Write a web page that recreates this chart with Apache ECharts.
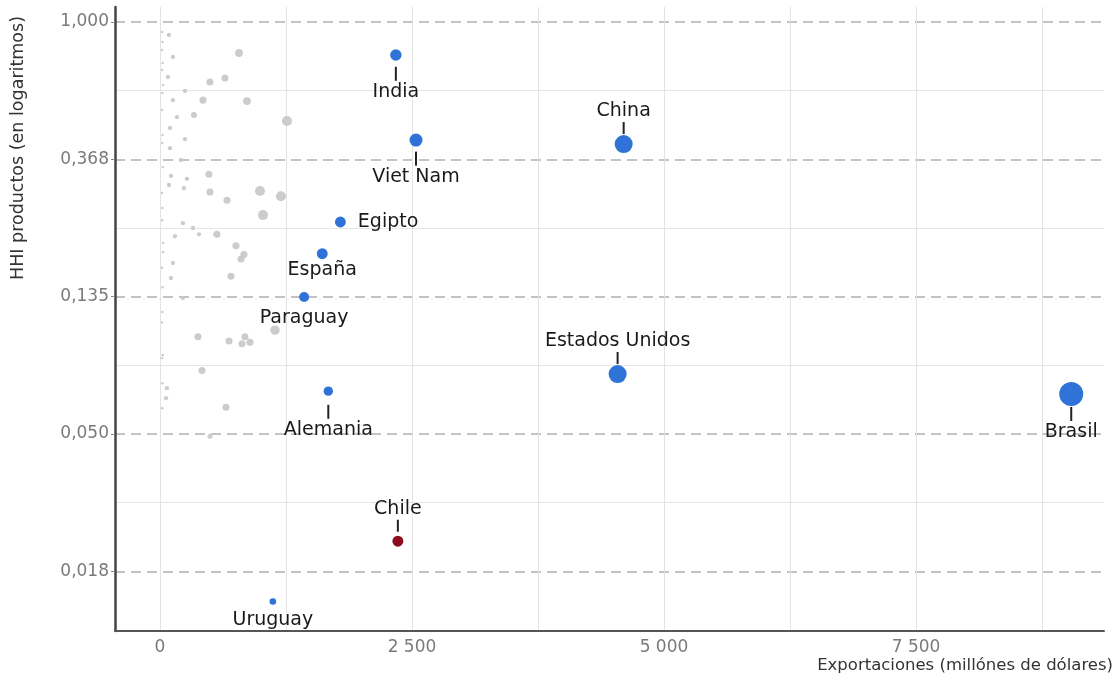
<!DOCTYPE html>
<html>
<head>
<meta charset="utf-8">
<script src="https://cdn.jsdelivr.net/npm/echarts@6/dist/echarts.min.js"></script>
<style>
html,body{margin:0;padding:0;background:#fff;}
#chart{width:1117px;height:689px;}
</style>
</head>
<body>
<div id="chart"></div>
<script>
// ---- Data ----
const paises = ['India','Viet Nam','China','Egipto','España','Paraguay','Estados Unidos','Brasil','Alemania','Chile','Uruguay'];
const exportaciones = [2340, 2540, 4600, 1790, 1610, 1430, 4540, 9040, 1670, 2360, 1120];
const hhi = [0.786, 0.423, 0.411, 0.233, 0.185, 0.135, 0.077, 0.0666, 0.068, 0.0228, 0.0147];
const pesos = [21, 27, 52, 19, 19, 16, 52, 92, 14, 19, 7];

const otrosExport = [89,129,784,79,496,645,248,129,427,863,169,337,1260,99,248,99,208,486,109,268,89,238,496,665,992,1200,1022,228,327,387,149,565,30,754,833,804,129,704,109,228,1141,377,685,843,814,893,417,69,60,655,496,
  22,25,20,28,22,30,24,20,26,22,28,20,24,22,30,20,26,24,22,28,20,25,22];
const otrosHHI = [0.910,0.775,0.798,0.670,0.646,0.665,0.605,0.566,0.566,0.562,0.500,0.508,0.486,0.462,0.426,0.399,0.366,0.330,0.326,0.319,0.305,0.298,0.290,0.273,0.292,0.281,0.245,0.231,0.223,0.213,0.210,0.213,0.200,0.196,0.184,0.178,0.173,0.157,0.155,0.134,0.106,0.101,0.098,0.101,0.096,0.097,0.079,0.0695,0.0646,0.0605,0.0490,
  0.930,0.864,0.815,0.742,0.705,0.632,0.596,0.527,0.439,0.414,0.348,0.288,0.258,0.236,0.187,0.167,0.145,0.121,0.112,0.0884,0.0865,0.072,0.060];
const otrosPesos = [3,3,10,3,8,8,3,3,8,10,3,6,16,3,3,3,3,8,3,3,3,3,8,8,16,16,16,3,3,3,3,8,1,8,8,8,3,8,3,3,14,8,8,8,8,8,8,3,3,8,4,
  1,1,1,1,1,1,1,1,1,1,1,1,1,1,1,1,1,1,1,1,1,1,1];

const xTickValues = [0, 2500, 5000, 7500];
const xTickLabels = ['0', '2 500', '5 000', '7 500'];
const xGridValues = [0, 1250, 2500, 3750, 5000, 6250, 7500, 8750];
const yTickValues = [0.0183156, 0.0497871, 0.1353353, 0.3678794, 1];
const yTickLabels = ['0,018', '0,050', '0,135', '0,368', '1,000'];
const yMinorValues = [0.0301974, 0.0820850, 0.2231302, 0.6065307];

// ---- Styles ----
const xMin = -446, xMax = 9365;
const yMin = Math.exp(-4.435), yMax = Math.exp(0.109);
const FONT = 'DejaVu Sans';
const BLUE = '#2f73d8', RED = '#8c0b1c', GRAY = '#c6c6c6';
const sizeOf = p => 2.5 * Math.sqrt(p);

const labelCfg = {
  'India': {pos: 'bottom', line: true, dist: 6},
  'Viet Nam': {pos: 'bottom', line: true, dist: 5},
  'China': {pos: 'top', line: true, dist: 1},
  'Egipto': {pos: 'right', line: false, dist: 12},
  'España': {pos: 'bottom', line: false, dist: 0},
  'Paraguay': {pos: 'bottom', line: false, dist: 5},
  'Estados Unidos': {pos: 'top', line: true, dist: 1},
  'Brasil': {pos: 'bottom', line: true, dist: 1},
  'Alemania': {pos: 'bottom', line: true, dist: 9},
  'Chile': {pos: 'top', line: true, dist: 4},
  'Uruguay': {pos: 'bottom', line: false, dist: 4}
};

const rich = {
  t: {fontSize: 19, fontFamily: FONT, color: '#1a1a1a', lineHeight: 22},
  l: {width: 2, height: 14, lineHeight: 14, backgroundColor: '#222', fontSize: 2},
  lt: {width: 2, height: 12, lineHeight: 12, backgroundColor: '#222', fontSize: 2}
};

const highlightData = paises.map((n, i) => {
  const c = labelCfg[n];
  let fmt = '{t|' + n + '}';
  if (c.line) fmt = c.pos === 'top' ? '{t|' + n + '}\n{lt| }' : '{l| }\n{t|' + n + '}';
  return {
    name: n,
    value: [exportaciones[i], hhi[i], pesos[i]],
    itemStyle: {color: n === 'Chile' ? RED : BLUE, opacity: 1},
    label: {show: true, position: c.pos, distance: c.dist, formatter: fmt, rich: rich, color: '#1a1a1a', align: c.pos === 'right' ? 'left' : 'center'}
  };
});

const grayData = otrosExport.map((x, i) => [x, otrosHHI[i], otrosPesos[i]]);

const labelFont = {color: '#7a7a7a', fontSize: 17, fontFamily: FONT};

const option = {
  animation: false,
  backgroundColor: '#ffffff',
  grid: {left: 115, right: 13, top: 7, bottom: 58, outerBoundsMode: 'none'},
  xAxis: {
    type: 'value', min: xMin, max: xMax,
    axisLine: {show: true, onZero: false, lineStyle: {color: '#555', width: 2}},
    axisTick: {show: false, customValues: xGridValues},
    axisLabel: Object.assign({
      customValues: xTickValues, margin: 8,
      formatter: v => { const k = xTickValues.findIndex(t => Math.abs(t - v) < 1); return k >= 0 ? xTickLabels[k] : ''; }
    }, labelFont),
    splitLine: {show: true, lineStyle: {color: '#e3e3e3', width: 1}}
  },
  yAxis: [{
    type: 'log', logBase: Math.E, min: yMin, max: yMax, position: 'left',
    axisLine: {show: true, onZero: false, lineStyle: {color: '#444', width: 2.5}},
    axisTick: {show: true, customValues: yTickValues, length: 4, lineStyle: {color: '#888', width: 1}},
    axisLabel: Object.assign({
      customValues: yTickValues, margin: 6,
      formatter: v => { const k = yTickValues.findIndex(t => Math.abs(t - v) / t < 1e-3); return k >= 0 ? yTickLabels[k] : ''; }
    }, labelFont),
    splitLine: {show: true, lineStyle: {color: '#b0b0b0', width: 1.5, type: [10, 6]}}
  }, {
    type: 'log', logBase: Math.E, min: yMin, max: yMax, position: 'left',
    axisLine: {show: false, onZero: false},
    axisTick: {show: false, customValues: yMinorValues},
    axisLabel: {show: false, customValues: yMinorValues},
    splitLine: {show: true, lineStyle: {color: '#e6e6e6', width: 1}}
  }],
  graphic: [{
    type: 'text', x: 18, y: 148, rotation: Math.PI / 2,
    style: {text: 'HHI productos (en logaritmos)', fill: '#333', fontSize: 17.5, fontFamily: FONT, align: 'center', verticalAlign: 'middle'}
  }, {
    type: 'text', x: 1113, y: 666,
    style: {text: 'Exportaciones (millónes de dólares)', fill: '#333', fontSize: 16.5, fontFamily: FONT, align: 'right', verticalAlign: 'middle'}
  }],
  series: [{
    type: 'scatter', yAxisIndex: 0, data: grayData,
    symbolSize: v => sizeOf(v[2]),
    itemStyle: {color: GRAY, opacity: 0.9},
    silent: true, z: 2
  }, {
    type: 'scatter', yAxisIndex: 0, data: highlightData,
    symbolSize: v => sizeOf(v[2]),
    silent: true, z: 3
  }]
};

const chart = echarts.init(document.getElementById('chart'), null, {renderer: 'canvas'});
chart.setOption(option);
</script>
</body>
</html>
